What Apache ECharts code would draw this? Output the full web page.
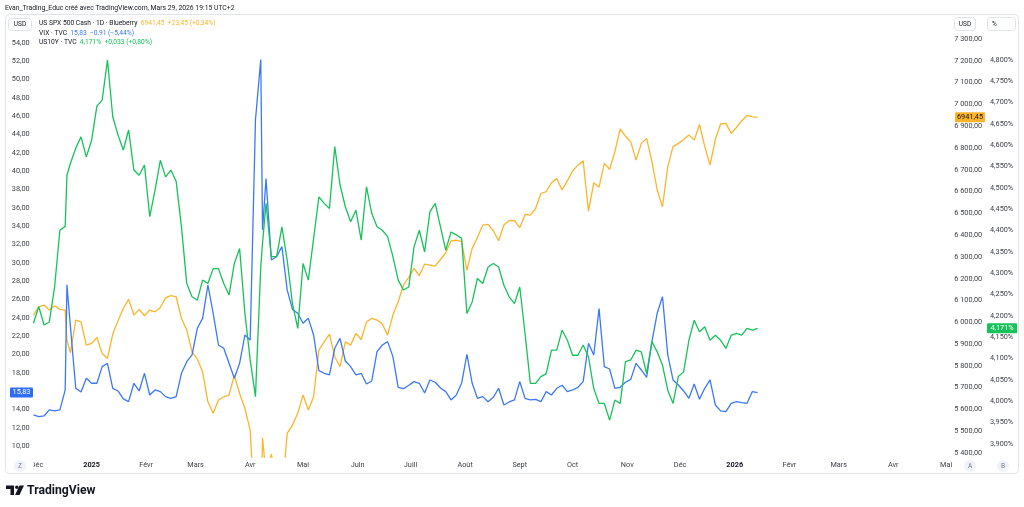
<!DOCTYPE html>
<html><head><meta charset="utf-8">
<script src="https://cdn.jsdelivr.net/npm/echarts@6/dist/echarts.min.js"></script>
<style>html,body{margin:0;padding:0;background:#fff}#c{width:1024px;height:507px}</style>
</head><body><div id="c"></div>
<script>
const dates = ['2024-11-29','2024-12-02','2024-12-05','2024-12-08','2024-12-11','2024-12-14','2024-12-17','2024-12-18','2024-12-20','2024-12-23','2024-12-26','2024-12-29',
'2025-01-01','2025-01-04','2025-01-07','2025-01-10','2025-01-13','2025-01-16','2025-01-19','2025-01-22','2025-01-25','2025-01-28','2025-01-31',
'2025-02-03','2025-02-06','2025-02-09','2025-02-12','2025-02-15','2025-02-18','2025-02-21','2025-02-24','2025-02-27',
'2025-03-02','2025-03-05','2025-03-08','2025-03-11','2025-03-14','2025-03-17','2025-03-20','2025-03-23','2025-03-26','2025-03-29',
'2025-04-01','2025-04-04','2025-04-07','2025-04-08','2025-04-10','2025-04-13','2025-04-16','2025-04-19','2025-04-22','2025-04-25','2025-04-28',
'2025-05-01','2025-05-04','2025-05-07','2025-05-10','2025-05-13','2025-05-16','2025-05-19','2025-05-22','2025-05-25','2025-05-28','2025-05-31',
'2025-06-03','2025-06-06','2025-06-09','2025-06-12','2025-06-15','2025-06-18','2025-06-21','2025-06-24','2025-06-27','2025-06-30',
'2025-07-03','2025-07-06','2025-07-09','2025-07-12','2025-07-15','2025-07-18','2025-07-21','2025-07-24','2025-07-27','2025-07-30',
'2025-08-02','2025-08-05','2025-08-08','2025-08-11','2025-08-14','2025-08-17','2025-08-20','2025-08-23','2025-08-26','2025-08-29',
'2025-09-01','2025-09-04','2025-09-07','2025-09-10','2025-09-13','2025-09-16','2025-09-19','2025-09-22','2025-09-25','2025-09-28',
'2025-10-01','2025-10-04','2025-10-07','2025-10-10','2025-10-13','2025-10-16','2025-10-19','2025-10-22','2025-10-25','2025-10-28','2025-10-31',
'2025-11-03','2025-11-06','2025-11-09','2025-11-12','2025-11-15','2025-11-18','2025-11-21','2025-11-24','2025-11-27','2025-11-30',
'2025-12-03','2025-12-06','2025-12-09','2025-12-12','2025-12-15','2025-12-18','2025-12-21','2025-12-24','2025-12-27','2025-12-30',
'2026-01-02','2026-01-05','2026-01-08','2026-01-11','2026-01-14'];

const spxValues = [6033,6071,6079,6056,6076,6059,6056,5918,5860,6010,6002,5895,
5903,5930,5857,5834,5946,6007,6063,6105,6033,6059,6030,
6056,6048,6068,6112,6122,6117,6018,5964,5865,
5831,5773,5635,5582,5643,5658,5666,5757,5673,5605,
5505,5074,5062,5470,5300,5395,5280,5200,5490,5528,5582,
5666,5597,5658,5872,5910,5946,5842,5796,5910,5895,5949,
5921,6001,6018,6010,5992,5941,6033,6094,6171,6206,
6247,6213,6267,6262,6258,6288,6319,6373,6377,6370,
6238,6339,6389,6446,6449,6420,6374,6446,6467,6466,
6434,6495,6492,6522,6591,6600,6640,6660,6607,6649,
6695,6721,6741,6510,6640,6620,6729,6702,6783,6887,6854,
6828,6744,6821,6844,6737,6607,6530,6714,6806,6821,
6839,6859,6836,6908,6806,6721,6839,6910,6913,6867,
6894,6925,6949,6943,6941.45];

const vixValues = [13.39,13.21,13.28,13.94,13.83,13.94,16.1,27.6,23.0,16.3,15.9,17.39,
16.85,16.85,18.67,19.03,16.30,16.01,15.14,14.84,16.85,16.01,17.94,
15.57,16.12,15.94,15.39,15.21,15.39,17.94,19.21,19.94,
22.85,23.94,27.58,24.49,21.03,20.67,19.03,17.39,19.03,22.12,
21.58,45.6,52.2,33.6,39.2,30.31,30.67,31.77,27.04,24.92,24.49,
23.40,23.94,22.12,18.23,17.94,17.76,20.67,21.76,19.28,18.67,17.76,
17.94,16.77,17.10,20.30,21.03,21.40,19.76,16.41,16.26,16.63,
17.03,16.85,15.79,17.21,16.96,16.34,15.94,15.03,15.57,16.85,
20.0,16.85,15.21,15.39,14.84,15.32,16.30,14.48,14.81,15.03,
17.03,15.21,15.03,15.10,14.84,15.94,15.57,16.30,16.63,15.94,
16.12,16.41,17.03,21.21,19.94,25.0,18.67,18.41,16.30,16.41,16.96,
17.28,19.03,18.30,17.50,21.40,24.49,26.31,19.94,17.21,16.66,
16.01,15.21,16.77,15.10,16.30,17.21,14.48,13.83,13.75,14.66,
14.84,14.74,14.66,15.94,15.83];

const us10yValues = [4.183,4.222,4.179,4.186,4.268,4.401,4.41,4.53,4.558,4.593,4.620,4.573,
4.612,4.692,4.706,4.800,4.667,4.624,4.589,4.636,4.542,4.530,4.554,
4.433,4.495,4.565,4.526,4.542,4.515,4.409,4.276,4.245,
4.237,4.284,4.276,4.311,4.311,4.276,4.249,4.323,4.358,4.206,
4.097,4.011,4.315,4.37,4.464,4.339,4.339,4.409,4.331,4.229,4.171,
4.323,4.284,4.382,4.479,4.464,4.452,4.597,4.507,4.456,4.421,4.448,
4.378,4.503,4.440,4.409,4.401,4.386,4.339,4.284,4.261,4.268,
4.362,4.401,4.350,4.444,4.464,4.409,4.354,4.397,4.390,4.382,
4.206,4.233,4.288,4.276,4.315,4.323,4.315,4.272,4.245,4.229,
4.268,4.159,4.042,4.042,4.058,4.065,4.120,4.120,4.167,4.143,
4.108,4.108,4.132,4.104,4.030,3.995,3.995,3.956,4.003,3.995,4.093,
4.097,4.120,4.116,4.065,4.140,4.116,4.085,4.026,3.995,4.058,
4.069,4.143,4.190,4.163,4.175,4.143,4.155,4.143,4.124,4.155,
4.159,4.155,4.171,4.167,4.171];

const monthTicks = ['2024-12-01','2025-01-01','2025-02-01','2025-03-01','2025-04-01','2025-05-01','2025-06-01','2025-07-01','2025-08-01','2025-09-01','2025-10-01','2025-11-01','2025-12-01','2026-01-01','2026-02-01','2026-03-01','2026-04-01','2026-05-01'];
const monthNamesFr = ['Janv','Févr','Mars','Avr','Mai','Juin','Juill','Août','Sept','Oct','Nov','Déc'];
const vixTicks = [10,12,14,16,18,20,22,24,26,28,30,32,34,36,38,40,42,44,46,48,50,52,54];
const spxTicks = [5400,5500,5600,5700,5800,5900,6000,6100,6200,6300,6400,6500,6600,6700,6800,6900,7000,7100,7200,7300];
const us10yTicks = [3.90,3.95,4.00,4.05,4.10,4.15,4.20,4.25,4.30,4.35,4.40,4.45,4.50,4.55,4.60,4.65,4.70,4.75,4.80];

const legendTexts = {
  spxName: 'US SPX 500 Cash · 1D · Blueberry', spxVal: '6941,45  +23,45 (+0,34%)',
  vixName: 'VIX · TVC', vixVal: '15,83  −0,91 (−5,44%)',
  tnxName: 'US10Y · TVC', tnxVal: '4,171%  +0,033 (+0,80%)'
};

const C_SPX = '#FDB42C', C_VIX = '#3B79F4', C_TNX = '#17C25A';
const FONT = 'Roboto, "Liberation Sans", sans-serif';
const TXT = '#3b3e47';

function toTs(s){ const p = s.split('-').map(Number); return Date.UTC(p[0], p[1]-1, p[2]); }
function fmtSpx(v){ const [i,f] = v.toFixed(2).split('.'); return i.replace(/\B(?=(\d{3})+(?!\d))/g,' ') + ',' + f; }

const xs = dates.map(toTs);

function legendLine(id, y, name, val, color){
  return {id:id, type:'text', z:60, x:39, y:y, style:{
    text:'{n|' + name + '}  {v|' + val + '}', font:'6.7px '+FONT,
    rich:{n:{fill:'#131722', fontSize:6.7, fontFamily:FONT}, v:{fill:color, fontSize:6.7, fontFamily:FONT}}}};
}

const baseGraphic = [
  {id:'frame', type:'rect', z:0, shape:{x:5.5,y:14.5,width:1013,height:459,r:4}, style:{fill:'none',stroke:'#e0e3eb',lineWidth:1}},
  {id:'hdr', type:'text', x:5, y:5, style:{text:'Evan_Trading_Educ créé avec TradingView.com, Mars 29, 2026 19:15 UTC+2', font:'6.8px '+FONT, fill:'#131722'}},
  {id:'usdL', type:'rect', z:50, shape:{x:8.5,y:18.5,width:23,height:12,r:3}, style:{fill:'#fff',stroke:'#e0e3eb'}},
  {id:'usdLt', type:'text', z:51, x:20, y:24.5, style:{text:'USD', font:'6.5px '+FONT, fill:'#131722', align:'center', verticalAlign:'middle'}},
  {id:'usdR', type:'rect', z:50, shape:{x:954.5,y:17.5,width:21,height:13,r:3}, style:{fill:'#fff',stroke:'#e0e3eb'}},
  {id:'usdRt', type:'text', z:51, x:965, y:24, style:{text:'USD', font:'6.5px '+FONT, fill:'#131722', align:'center', verticalAlign:'middle'}},
  {id:'pctR', type:'rect', z:50, shape:{x:987.5,y:17.5,width:28,height:13,r:3}, style:{fill:'#fff',stroke:'#e0e3eb'}},
  {id:'pctRt', type:'text', z:51, x:992, y:24, style:{text:'%', font:'6.5px '+FONT, fill:'#131722', verticalAlign:'middle'}},
  legendLine('l1', 20, legendTexts.spxName, legendTexts.spxVal, C_SPX),
  legendLine('l2', 29.5, legendTexts.vixName, legendTexts.vixVal, C_VIX),
  legendLine('l3', 39, legendTexts.tnxName, legendTexts.tnxVal, C_TNX),
  {id:'cover', type:'rect', z:70, shape:{x:6,y:459,width:27.5,height:13}, style:{fill:'#fff'}},
  {id:'zc', type:'circle', z:71, shape:{cx:20,cy:466,r:6}, style:{fill:'#f0f3fa'}},
  {id:'zt', type:'text', z:72, x:20, y:466, style:{text:'Z', font:'6.5px '+FONT, fill:'#787b86', align:'center', verticalAlign:'middle'}},
  {id:'ac', type:'circle', z:71, shape:{cx:970,cy:466,r:6}, style:{fill:'#f0f3fa'}},
  {id:'at', type:'text', z:72, x:970, y:466, style:{text:'A', font:'6.5px '+FONT, fill:'#787b86', align:'center', verticalAlign:'middle'}},
  {id:'bc', type:'circle', z:71, shape:{cx:1003,cy:466,r:6}, style:{fill:'#f0f3fa'}},
  {id:'bt', type:'text', z:72, x:1003, y:466, style:{text:'B', font:'6.5px '+FONT, fill:'#787b86', align:'center', verticalAlign:'middle'}},
  {id:'tv1', type:'polygon', shape:{points:[[6,485.5],[14,485.5],[14,495],[10.5,495],[10.5,489],[6,489]]}, style:{fill:'#131722'}},
  {id:'tv2', type:'circle', shape:{cx:16.8,cy:487.3,r:1.8}, style:{fill:'#131722'}},
  {id:'tv3', type:'polygon', shape:{points:[[19.5,485.5],[24,485.5],[19.5,495],[15,495]]}, style:{fill:'#131722'}},
  {id:'tvt', type:'text', x:27, y:490.5, style:{text:'TradingView', font:'bold 12.2px '+FONT, fill:'#131722', verticalAlign:'middle'}}
];

const option = {
  animation: false,
  backgroundColor: '#ffffff',
  grid: {left: 31.7, right: 70.8, top: 17, bottom: 50, containLabel: false},
  xAxis: {
    type: 'value', min: toTs('2024-11-28'), max: toTs('2026-05-05'),
    axisLine: {show:false}, axisTick: {show:false}, splitLine: {show:false},
    axisLabel: {
      customValues: monthTicks.map(toTs), margin: 5, fontSize: 7.3, color: TXT, fontFamily: FONT,
      formatter: function(v){ const d = new Date(v); const m = d.getUTCMonth(); return m === 0 ? '{y|' + d.getUTCFullYear() + '}' : monthNamesFr[m]; },
      rich: {y: {fontWeight:'bold', color:'#131722', fontSize:7.3, fontFamily: FONT}}
    }
  },
  yAxis: [
    {type:'value', position:'left', min:8.80, max:56.84, axisLine:{show:false}, axisTick:{show:false}, splitLine:{show:false},
     axisLabel:{customValues: vixTicks, margin:2, fontSize:7.3, color:TXT, fontFamily:FONT, formatter: v => v.toFixed(2).replace('.', ',')}},
    {type:'value', position:'right', offset:0, min:5381.6, max:7401.0, axisLine:{show:false}, axisTick:{show:false}, splitLine:{show:false},
     axisLabel:{customValues: spxTicks, margin:29, align:'right', fontSize:7.3, color:TXT, fontFamily:FONT, formatter: v => fmtSpx(v)}},
    {type:'value', position:'right', offset:0, min:3.8695, max:4.9008, axisLine:{show:false}, axisTick:{show:false}, splitLine:{show:false},
     axisLabel:{customValues: us10yTicks, margin:60, align:'right', fontSize:7.3, color:TXT, fontFamily:FONT, formatter: v => v.toFixed(3).replace('.', ',') + '%'}}
  ],
  series: [
    {name:'US SPX 500', type:'line', yAxisIndex:1, showSymbol:false, clip:true, data: xs.map((t,i)=>[t, spxValues[i]]), lineStyle:{color:C_SPX, width:1.3}, itemStyle:{color:C_SPX}},
    {name:'VIX', type:'line', yAxisIndex:0, showSymbol:false, clip:true, data: xs.map((t,i)=>[t, vixValues[i]]), lineStyle:{color:C_VIX, width:1.3}, itemStyle:{color:C_VIX}},
    {name:'US10Y', type:'line', yAxisIndex:2, showSymbol:false, clip:true, data: xs.map((t,i)=>[t, us10yValues[i]]), lineStyle:{color:C_TNX, width:1.3}, itemStyle:{color:C_TNX}}
  ],
  graphic: {elements: baseGraphic}
};

const chart = echarts.init(document.getElementById('c'), null, {renderer:'canvas'});
chart.setOption(option);

const n = dates.length - 1;
const ySpx = chart.convertToPixel({yAxisIndex:1}, spxValues[n]);
const yVix = chart.convertToPixel({yAxisIndex:0}, vixValues[n]);
const yTnx = chart.convertToPixel({yAxisIndex:2}, us10yValues[n]);
const tags = [
  {id:'tagS', type:'rect', z:80, shape:{x:955,y:ySpx-5,width:30,height:10,r:1}, style:{fill:C_SPX}},
  {id:'tagSt', type:'text', z:81, x:970, y:ySpx, style:{text:fmtSpx(spxValues[n]).replace(' ',''), font:'7.3px '+FONT, fill:'#131722', align:'center', verticalAlign:'middle'}},
  {id:'tagV', type:'rect', z:80, shape:{x:10,y:yVix-5,width:23,height:10,r:1}, style:{fill:'#2F6EF2'}},
  {id:'tagVt', type:'text', z:81, x:21.5, y:yVix, style:{text:vixValues[n].toFixed(2).replace('.', ','), font:'7.3px '+FONT, fill:'#fff', align:'center', verticalAlign:'middle'}},
  {id:'tagT', type:'rect', z:80, shape:{x:987,y:yTnx-5,width:30,height:10,r:1}, style:{fill:C_TNX}},
  {id:'tagTt', type:'text', z:81, x:1002, y:yTnx, style:{text:us10yValues[n].toFixed(3).replace('.', ',') + '%', font:'7.3px '+FONT, fill:'#fff', align:'center', verticalAlign:'middle'}}
];
chart.setOption({graphic: {elements: baseGraphic.concat(tags)}});
</script>
</body></html>
